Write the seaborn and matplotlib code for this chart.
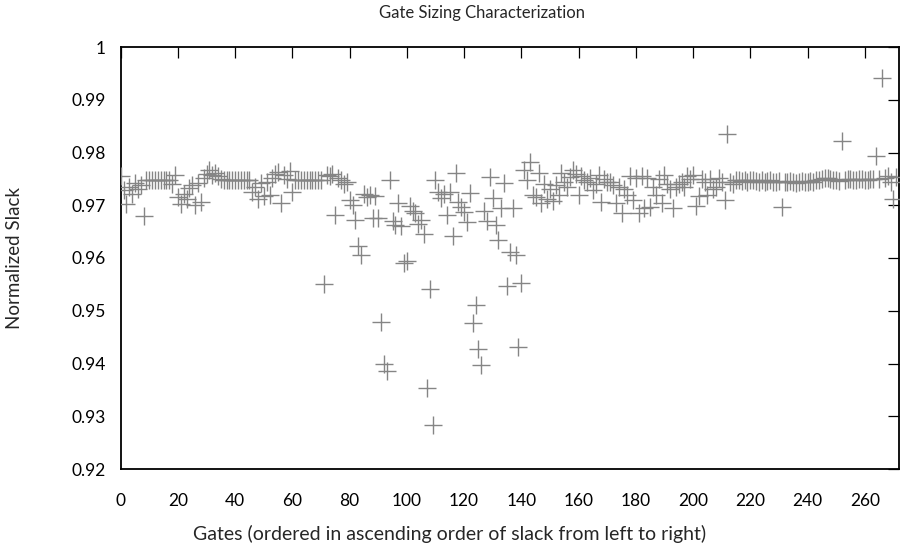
import numpy as np
import pandas as pd
import matplotlib
matplotlib.use("Agg")
import matplotlib.pyplot as plt
import seaborn as sns
from matplotlib.ticker import MultipleLocator, FuncFormatter

sns.set_style("white")
plt.rcParams['font.family'] = ['Lato', 'DejaVu Sans']

title = "Gate Sizing Characterization"
xlabel = "Gates (ordered in ascending order of slack from left to right)"
ylabel = "Normalized Slack"

# slack values per gate index 0..271
slack_0_35 = [0.9755, 0.9728, 0.9703, 0.9735, 0.9722, 0.9742, 0.9730, 0.9738, 0.9680,
              0.9747, 0.9747, 0.9747, 0.9747, 0.9747, 0.9747, 0.9747, 0.9747, 0.9747,
              0.9740, 0.9757, 0.9716, 0.9702, 0.9722, 0.9712, 0.9733, 0.9738, 0.9700,
              0.9742, 0.9706, 0.9752, 0.9760, 0.9766, 0.9758, 0.9762, 0.9755, 0.9750]
slack_36_70 = [0.9747, 0.9747, 0.9747, 0.9747, 0.9747, 0.9747, 0.9747, 0.9747, 0.9747, 0.9747,
               0.9725, 0.9735, 0.9712, 0.9742, 0.9718, 0.9745, 0.9720, 0.9752, 0.9760, 0.9763,
               0.9704, 0.9758, 0.9750, 0.9765, 0.9726,
               0.9747, 0.9747, 0.9747, 0.9747, 0.9747, 0.9747, 0.9747, 0.9747, 0.9747, 0.9747]
slack_71_110 = [0.9550, 0.9757, 0.9755, 0.9760, 0.9682, 0.9752, 0.9747, 0.9740, 0.9745, 0.9710,
                0.9700, 0.9672, 0.9623, 0.9606, 0.9722, 0.9715, 0.9720, 0.9676, 0.9718, 0.9676,
                0.9478, 0.9400, 0.9386, 0.9748, 0.9670, 0.9662, 0.9705, 0.9660, 0.9590, 0.9595,
                0.9698, 0.9690, 0.9685, 0.9665, 0.9672, 0.9646, 0.9354, 0.9541, 0.9283, 0.9748]
slack_111_150 = [0.9726, 0.9713, 0.9722, 0.9682, 0.9725, 0.9642, 0.9761, 0.9707, 0.9697, 0.9688,
                 0.9669, 0.9723, 0.9476, 0.9510, 0.9427, 0.9398, 0.9690, 0.9670, 0.9754, 0.9713,
                 0.9663, 0.9634, 0.9694, 0.9743, 0.9546, 0.9612, 0.9694, 0.9606, 0.9432, 0.9552,
                 0.9766, 0.9748, 0.9782, 0.9720, 0.9715, 0.9761, 0.9705, 0.9740, 0.9712, 0.9730]
slack_151_190 = [0.9708, 0.9738, 0.9720, 0.9762, 0.9745, 0.9735, 0.9754, 0.9766, 0.9760, 0.9719,
                 0.9755, 0.9748, 0.9744, 0.9752, 0.9729, 0.9740, 0.9757, 0.9707, 0.9750, 0.9745,
                 0.9744, 0.9738, 0.9704, 0.9735, 0.9685, 0.9730, 0.9720, 0.9755, 0.9710, 0.9752,
                 0.9685, 0.9755, 0.9695, 0.9752, 0.9697, 0.9735, 0.9720, 0.9750, 0.9705, 0.9757]
slack_191_230 = [0.9740, 0.9730, 0.9695, 0.9735, 0.9740, 0.9745, 0.9735, 0.9755, 0.9750, 0.9757,
                 0.9699, 0.9717, 0.9750, 0.9745, 0.9720, 0.9750, 0.9730, 0.9735, 0.9752, 0.9745,
                 0.9710, 0.9836, 0.9745, 0.9740, 0.9747, 0.9748, 0.9746, 0.9747, 0.9745, 0.9747,
                 0.9748, 0.9746, 0.9745, 0.9747, 0.9744, 0.9746, 0.9747, 0.9745, 0.9744, 0.9746]
slack_231_271 = [0.9697, 0.9745, 0.9744, 0.9746, 0.9745, 0.9743, 0.9745, 0.9746, 0.9744, 0.9745,
                 0.9746, 0.9745, 0.9747, 0.9748, 0.9750, 0.9752, 0.9751, 0.9750, 0.9748, 0.9747,
                 0.9746, 0.9822, 0.9748, 0.9750, 0.9749, 0.9748, 0.9747, 0.9749, 0.9750, 0.9748,
                 0.9747, 0.9749, 0.9750, 0.9793, 0.9750, 0.9942, 0.9752, 0.9755, 0.9745, 0.9712,
                 0.9754]

slack = (slack_0_35 + slack_36_70 + slack_71_110 + slack_111_150 +
         slack_151_190 + slack_191_230 + slack_231_271)
gates = list(range(len(slack)))
df = pd.DataFrame({"gate": gates, "slack": slack})

fig = plt.figure(figsize=(9, 5.48), dpi=100)
ax = fig.add_axes([120.7/900, 1 - 469/548, 1 - 120.7/900 - 0.001, (469 - 47)/548])

sns.scatterplot(data=df, x="gate", y="slack", marker="+", s=150, color="#858585",
                linewidth=1.0, ax=ax, legend=False, zorder=3)

ax.set_xlim(0, 272)
ax.set_ylim(0.92, 1.0)
ax.xaxis.set_major_locator(MultipleLocator(20))
ax.yaxis.set_major_locator(MultipleLocator(0.01))
ax.yaxis.set_major_formatter(FuncFormatter(lambda v, p: "1" if abs(v - 1) < 1e-9 else f"{v:.2f}"))
ax.tick_params(direction="in", length=8, width=0.9, top=True, right=True,
               labelsize=12.5, colors="black")
ax.tick_params(axis="x", pad=17)
ax.tick_params(axis="y", pad=11)
for s in ax.spines.values():
    s.set_visible(True)
    s.set_color("black")
    s.set_linewidth(1.3)
ax.set_xlabel("")
ax.set_ylabel("")
fig.text(482/900, 1 - 13/548, title, ha="center", va="center", fontsize=12)
fig.text(450/900, 1 - 534/548, xlabel, ha="center", va="center", fontsize=14)
fig.text(15/900, 1 - 258/548, ylabel, ha="center", va="center", rotation=90, fontsize=13.5)

fig.savefig("out.png", dpi=100)
